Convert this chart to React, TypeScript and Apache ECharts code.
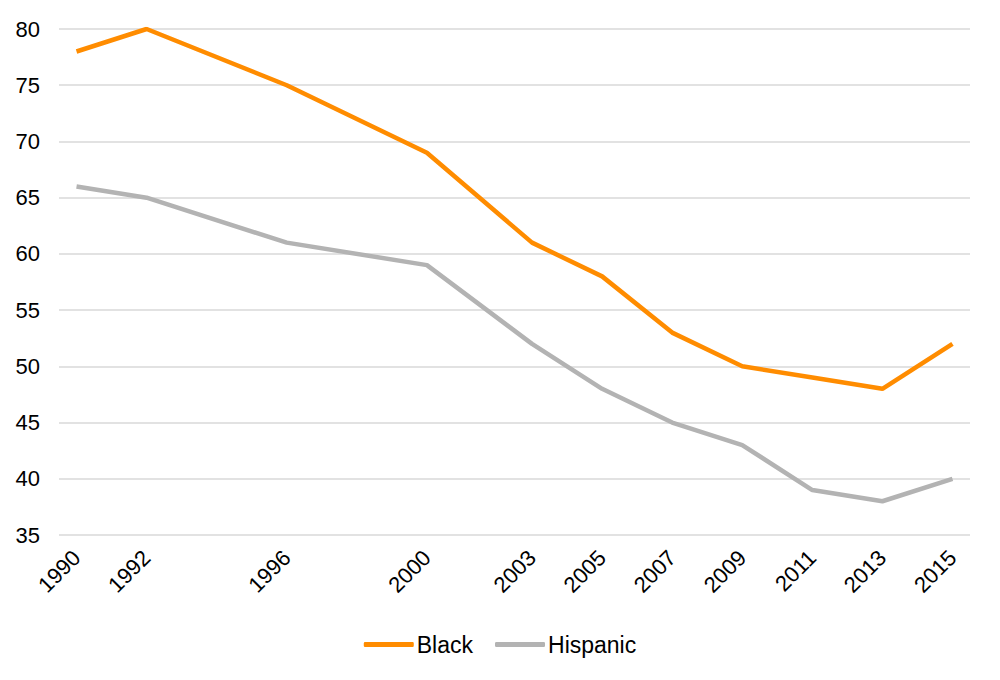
import React, { useEffect, useRef } from "react";
import * as echarts from "echarts";

const years = [1990, 1992, 1996, 2000, 2003, 2005, 2007, 2009, 2011, 2013, 2015];
const black = [78, 80, 75, 69, 61, 58, 53, 50, 49, 48, 52];
const hispanic = [66, 65, 61, 59, 52, 48, 45, 43, 39, 38, 40];

const FONT = "'Liberation Sans', Arial, Helvetica, sans-serif";

export default function App() {
  const ref = useRef<HTMLDivElement>(null);
  useEffect(() => {
    if (!ref.current) return;
    const chart = echarts.init(ref.current, null, { renderer: "svg" });
    chart.setOption({
      animation: false,
      textStyle: { fontFamily: FONT },
      grid: { left: 59, right: 30, top: 29, bottom: 145, containLabel: false },
      legend: {
        bottom: 19,
        left: "center",
        icon: "roundRect",
        itemWidth: 50,
        itemHeight: 5,
        itemGap: 22,
        textStyle: { fontSize: 23, color: "#000", fontFamily: FONT, padding: [0, 0, 0, -2] },
        data: ["Black", "Hispanic"],
      },
      xAxis: {
        type: "value",
        min: 1989.5,
        max: 2015.5,
        axisLine: { show: false },
        axisTick: { show: false },
        splitLine: { show: false },
        axisLabel: {
          customValues: years,
          rotate: 45,
          margin: 19,
          fontSize: 22,
          color: "#000",
          fontFamily: FONT,
          formatter: (v: number) => String(v),
        },
      },
      yAxis: {
        type: "value",
        min: 35,
        max: 80,
        interval: 5,
        axisLine: { show: false },
        axisTick: { show: false },
        splitLine: { lineStyle: { color: "#d9d9d9", width: 1.5 } },
        axisLabel: { fontSize: 22, color: "#000", margin: 19, fontFamily: FONT },
      },
      series: [
        {
          name: "Black",
          type: "line",
          data: years.map((y, i) => [y, black[i]]),
          showSymbol: false,
          lineStyle: { color: "#FF8C00", width: 4.5 },
          itemStyle: { color: "#FF8C00" },
        },
        {
          name: "Hispanic",
          type: "line",
          data: years.map((y, i) => [y, hispanic[i]]),
          showSymbol: false,
          lineStyle: { color: "#B3B3B3", width: 4.5 },
          itemStyle: { color: "#B3B3B3" },
        },
      ],
    });
    return () => chart.dispose();
  }, []);
  return (
    <div
      ref={ref}
      style={{ position: "absolute", left: 0, top: 0, width: 1000, height: 680, background: "#fff" }}
    />
  );
}
